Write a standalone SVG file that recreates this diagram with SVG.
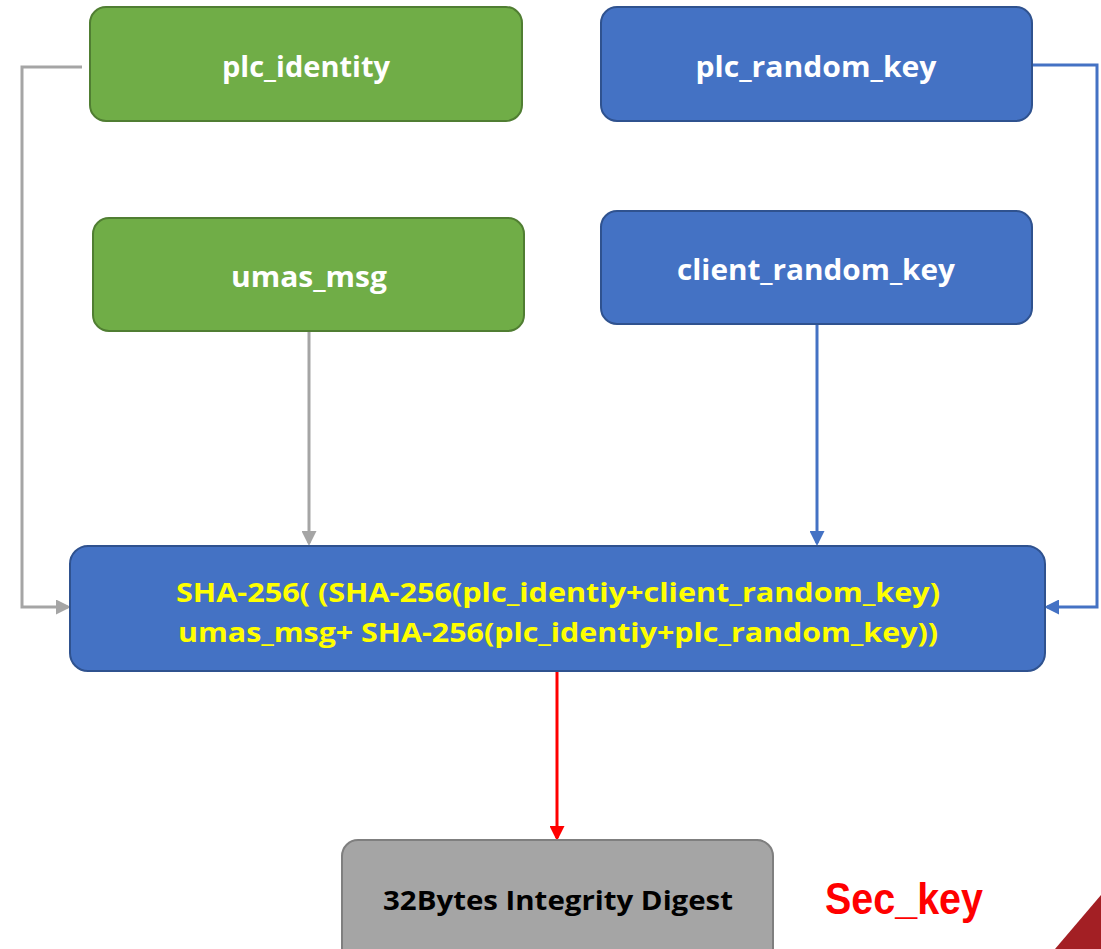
<svg xmlns="http://www.w3.org/2000/svg" width="1101" height="949" viewBox="0 0 1101 949">
<style>
.g{fill:#70AD47;stroke:#507E32;stroke-width:2}
.b{fill:#4472C4;stroke:#2F528F;stroke-width:2}
.gr{fill:#A5A5A5;stroke:#7F7F7F;stroke-width:2}
.t{font-family:"Open Sans","Liberation Sans",sans-serif;font-weight:700;font-size:29px;fill:#fff;text-anchor:middle}
.y{font-family:"Open Sans","Liberation Sans",sans-serif;font-weight:700;font-size:27px;fill:#FFFF00;text-anchor:middle}
.k{font-family:"Open Sans","Liberation Sans",sans-serif;font-weight:700;font-size:27px;fill:#000;text-anchor:middle}
.c{fill:none;stroke-width:3}
</style>
<defs>
<marker id="ag" markerWidth="5" markerHeight="5" refX="4" refY="2.5" orient="auto" markerUnits="strokeWidth"><path d="M0,0L5,2.5L0,5z" fill="#A5A5A5"/></marker>
<marker id="ab" markerWidth="5" markerHeight="5" refX="4" refY="2.5" orient="auto" markerUnits="strokeWidth"><path d="M0,0L5,2.5L0,5z" fill="#4472C4"/></marker>
<marker id="ar" markerWidth="5" markerHeight="5" refX="4" refY="2.5" orient="auto" markerUnits="strokeWidth"><path d="M0,0L5,2.5L0,5z" fill="#FF0000"/></marker>
</defs>
<rect width="1101" height="949" fill="#fff"/>
<g id="connectors">
<path class="c" d="M82,67H22V607H68" stroke="#A5A5A5" marker-end="url(#ag)"/>
<path class="c" d="M309,332V543" stroke="#A5A5A5" marker-end="url(#ag)"/>
<path class="c" d="M817,324V543" stroke="#4472C4" marker-end="url(#ab)"/>
<path class="c" d="M1033,65H1097V607H1047" stroke="#4472C4" marker-end="url(#ab)"/>
<path class="c" d="M557,672V838" stroke="#FF0000" marker-end="url(#ar)"/>
</g>
<g id="plc_identity"><rect class="g" x="90" y="7" width="432" height="114" rx="16"/><text class="t" x="306" y="77" textLength="168" lengthAdjust="spacingAndGlyphs">plc_identity</text></g>
<g id="plc_random_key"><rect class="b" x="601" y="7" width="431" height="114" rx="16"/><text class="t" x="816" y="77" textLength="241" lengthAdjust="spacingAndGlyphs">plc_random_key</text></g>
<g id="umas_msg"><rect class="g" x="93" y="218" width="431" height="113" rx="16"/><text class="t" x="309" y="287" textLength="156" lengthAdjust="spacingAndGlyphs">umas_msg</text></g>
<g id="client_random_key"><rect class="b" x="601" y="211" width="431" height="113" rx="16"/><text class="t" x="816" y="280" textLength="278" lengthAdjust="spacingAndGlyphs">client_random_key</text></g>
<g id="sha"><rect class="b" x="70" y="546" width="975" height="125" rx="18"/>
<text class="y" x="558" y="602" textLength="764" lengthAdjust="spacingAndGlyphs">SHA-256( (SHA-256(plc_identiy+client_random_key)</text>
<text class="y" x="558" y="642" textLength="760" lengthAdjust="spacingAndGlyphs">umas_msg+ SHA-256(plc_identiy+plc_random_key))</text></g>
<g id="digest"><rect class="gr" x="342" y="840" width="431" height="125" rx="16"/><text class="k" x="558" y="910" textLength="350" lengthAdjust="spacingAndGlyphs">32Bytes Integrity Digest</text></g>
<text x="904" y="914" font-family="'Liberation Sans',sans-serif" font-weight="700" font-size="44" fill="#FF0000" text-anchor="middle" textLength="158" lengthAdjust="spacingAndGlyphs">Sec_key</text>
<path d="M1101,895L1055,949H1101z" fill="#A31F24"/>
</svg>
